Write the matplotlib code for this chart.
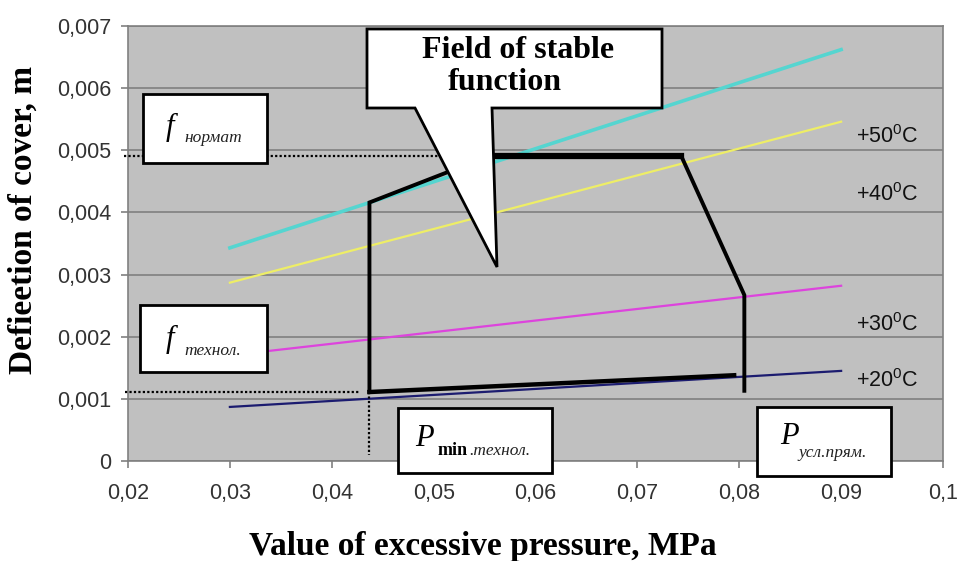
import matplotlib.pyplot as plt
from matplotlib.patches import Rectangle, Polygon
from matplotlib.ticker import FuncFormatter

# pressure end points of the temperature lines, MPa
pressure = [0.03, 0.09]
# deflection of cover, m
defl_50 = [0.00343, 0.00662]
defl_40 = [0.00287, 0.00546]
defl_30 = [0.00170, 0.00282]
defl_20 = [0.00087, 0.00145]
temp_labels = ['+50', '+40', '+30', '+20']
temp_label_y = [0.00522, 0.00428, 0.00219, 0.00130]

# field of stable function (outline)
field_x = [0.0437, 0.0437, 0.0514, 0.0560]
field_y = [0.00111, 0.00416, 0.00465, 0.00491]
top_x = [0.0560, 0.0743]
top_y = [0.00491, 0.00491]
right_x = [0.0743, 0.0805, 0.0805]
right_y = [0.00491, 0.00267, 0.00113]
bottom_x = [0.0437, 0.0795]
bottom_y = [0.00111, 0.00138]

f_norm = 0.00491
f_tech = 0.00111
p_min = 0.0437

W, H = 957, 561
fig = plt.figure(figsize=(W / 100, H / 100), dpi=100)
ax = fig.add_axes([128 / W, 1 - 461 / H, (943 - 128) / W, (461 - 26) / H])
ax.set_facecolor('#c0c0c0')


def fp(x, y):
    return (x / W, 1 - y / H)


ax.plot(pressure, defl_50, color='#55d5d0', lw=2.6, zorder=3)
ax.plot(pressure, defl_40, color='#eeee66', lw=1.6, zorder=3)
ax.plot(pressure, defl_30, color='#dd44dd', lw=1.6, zorder=3)
ax.plot(pressure, defl_20, color='#1c1c70', lw=1.6, zorder=3)

for lab, yy in zip(temp_labels, temp_label_y):
    ax.text(0.0915, yy, lab + r'$^\mathregular{0}$C', fontsize=15.5, family='Liberation Sans',
            va='center', ha='left', color='#111111', zorder=4)

# dotted guide lines
ax.plot([0.0196, 0.0560], [f_norm, f_norm], color='black', lw=1.6, ls=(0, (1, 1)), clip_on=False, zorder=4)
ax.plot([0.0197, 0.0427], [f_tech, f_tech], color='black', lw=1.6, ls=(0, (1, 1)), clip_on=False, zorder=4)
ax.plot([p_min, p_min], [f_tech, 0.0001], color='black', lw=1.6, ls=(0, (1, 1)), zorder=4)

ax.plot(field_x, field_y, color='black', lw=2.8, zorder=5, solid_joinstyle='miter')
ax.plot(top_x, top_y, color='black', lw=4.5, zorder=5)
ax.plot(right_x, right_y, color='black', lw=2.8, zorder=5, solid_joinstyle='miter')
ax.plot(bottom_x, bottom_y, color='black', lw=3.2, zorder=5)

ax.set_xlim(0.02, 0.1)
ax.set_ylim(0, 0.007)
ax.set_xticks([0.02 + 0.01 * i for i in range(9)])
ax.set_yticks([0.001 * i for i in range(8)])
fmt = FuncFormatter(lambda v, p: ('%g' % round(v, 4)).replace('.', ','))
ax.xaxis.set_major_formatter(fmt)
ax.yaxis.set_major_formatter(fmt)
ax.grid(axis='y', color='#808080', lw=1.2)
ax.set_axisbelow(True)
for s in ax.spines.values():
    s.set_color('#808080')
    s.set_linewidth(1.2)
ax.tick_params(axis='both', colors='#808080', labelcolor='#333333', labelsize=15.5, width=1.2)
ax.tick_params(axis='x', length=5, pad=11)
ax.tick_params(axis='y', length=5, pad=7)
for t in ax.get_xticklabels() + ax.get_yticklabels():
    t.set_family('Liberation Sans')

fig.text(*fp(483, 546), 'Value of excessive pressure, MPa', family='Liberation Serif',
         weight='bold', fontsize=24, ha='center', va='center')
fig.text(*fp(23, 220), 'Defieetion of cover, m', family='Liberation Serif',
         weight='bold', fontsize=24, ha='center', va='center', rotation=90)


def box(x0, y0, x1, y1):
    (a, b), (c, d) = fp(x0, y1), fp(x1, y0)
    ax.add_patch(Rectangle((a, b), c - a, d - b, transform=fig.transFigure, clip_on=False,
                           facecolor='white', edgecolor='black', lw=2, zorder=8))


def label(x, y, main, sub_x, sub_base, sub, sub_bold=None):
    fig.text(*fp(x, y), main, family='Liberation Serif', style='italic', fontsize=22,
             ha='left', va='center', zorder=9)
    xx = sub_x
    if sub_bold:
        fig.text(*fp(xx, sub_base), sub_bold, family='Liberation Serif', weight='bold',
                 fontsize=13, ha='left', va='baseline', zorder=9)
        xx += 31
    fig.text(*fp(xx, sub_base), sub, family='Liberation Serif', style='italic', fontsize=12.5,
             ha='left', va='baseline', zorder=9, color='#222222')


box(143, 94, 267, 163)
label(166, 127, 'f', 184, 142, 'нормат')
box(140, 305, 267, 372)
label(166, 339, 'f', 184, 355, 'технол.')
box(398, 408, 552, 473)
label(415, 438, 'P', 438, 455, '.технол.', sub_bold='min')
box(757, 407, 891, 476)
label(780, 437, 'P', 798, 457, 'усл.прям.')

# callout
pts = [fp(367, 29), fp(662, 29), fp(662, 108), fp(492, 108), fp(497, 267), fp(415, 108), fp(367, 108)]
ax.add_patch(Polygon(pts, closed=True, transform=fig.transFigure, clip_on=False,
                     facecolor='white', edgecolor='black', lw=2, zorder=8))
fig.text(*fp(518, 50), 'Field of stable', family='Liberation Serif', weight='bold',
         fontsize=23, ha='center', va='center', zorder=9)
fig.text(*fp(505, 83), 'function', family='Liberation Serif', weight='bold',
         fontsize=23, ha='center', va='center', zorder=9)

fig.savefig('out.png', dpi=100, facecolor='white')
